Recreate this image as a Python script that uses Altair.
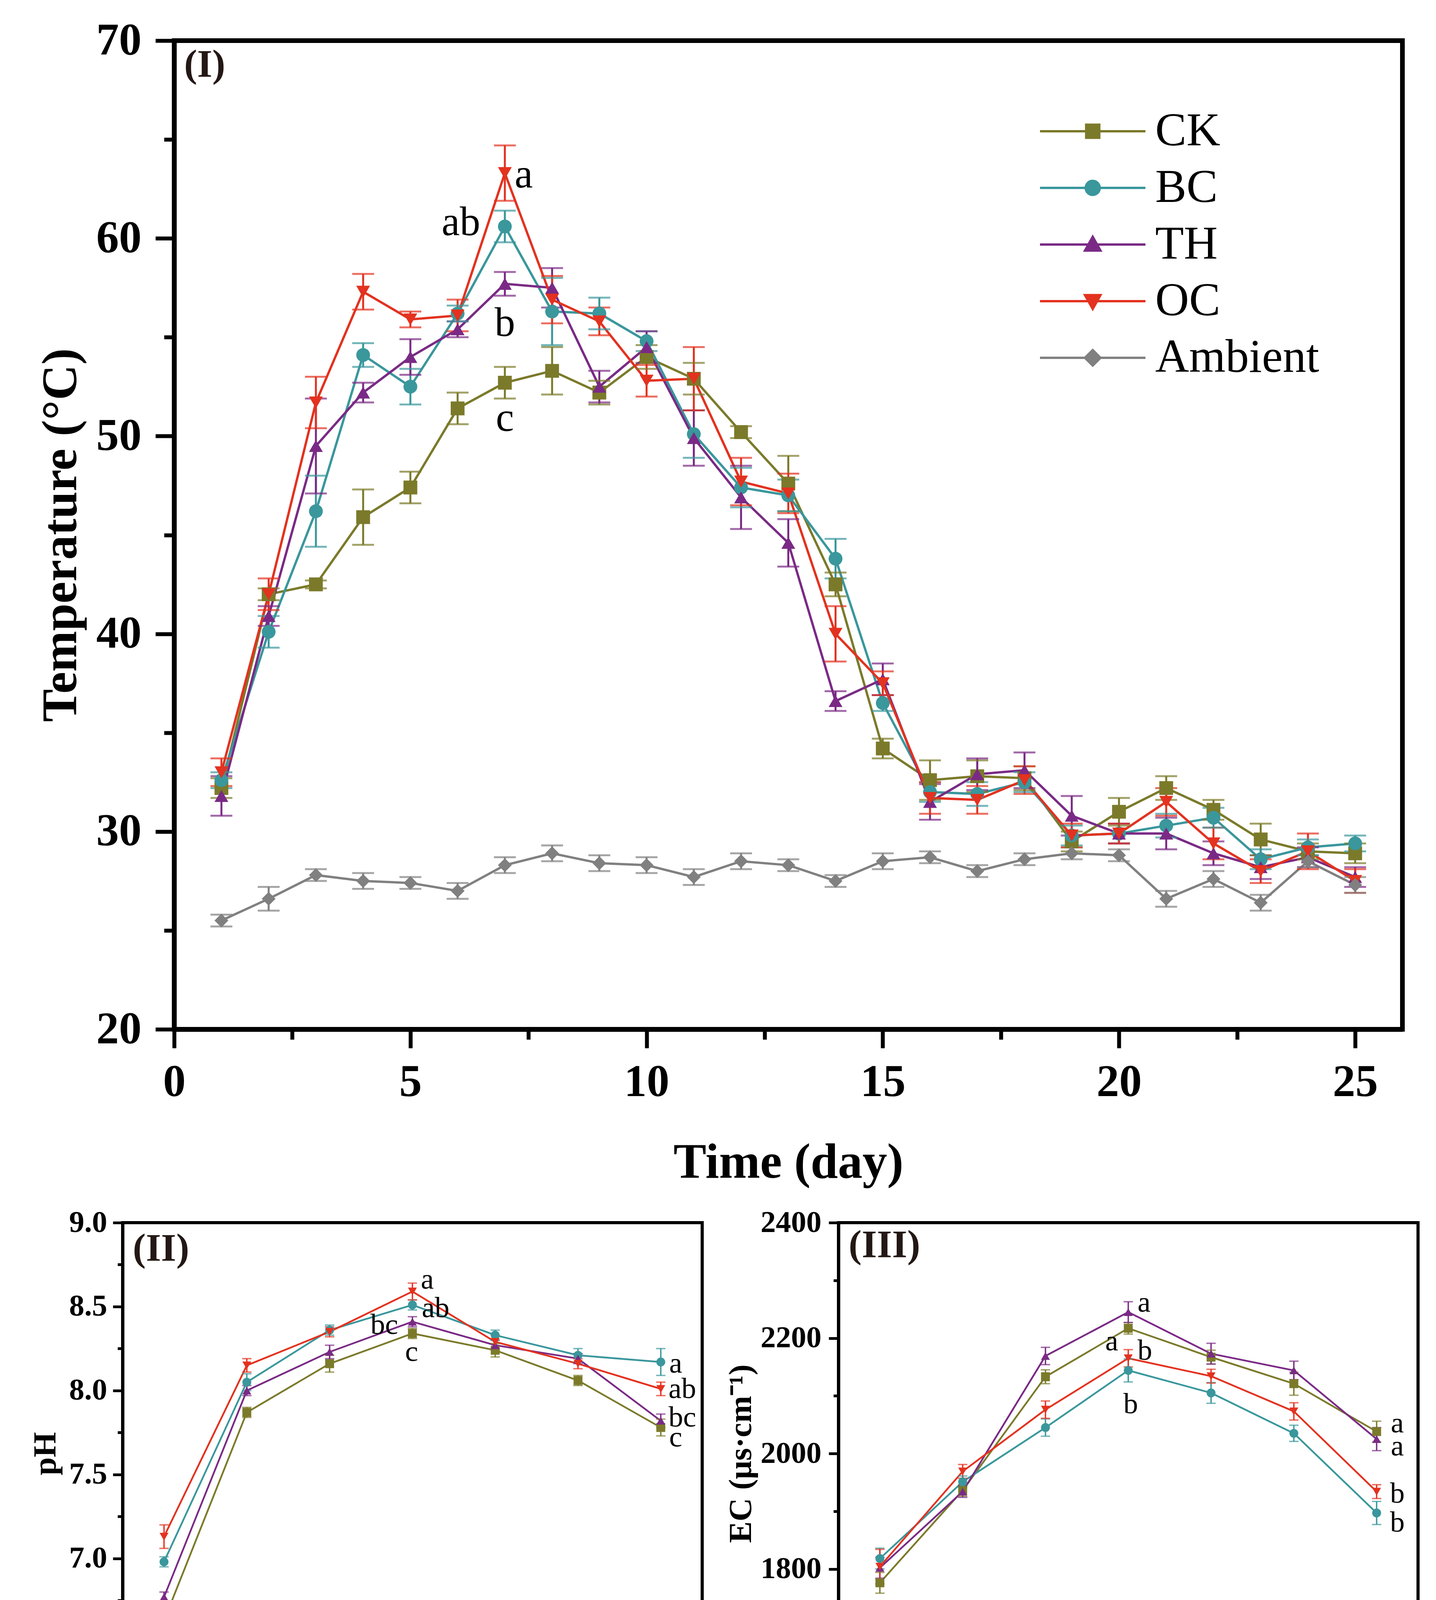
import pandas as pd
import altair as alt

FONT = "Liberation Serif"
TAG_COLOR = "#231815"

SERIES = ["CK", "BC", "TH", "OC", "Ambient"]
COLORS = ["#7b7a2a", "#3a979c", "#7a2a85", "#e3321f", "#808080"]
MARKERS = ["square", "circle", "triangle-up", "triangle-down", "diamond"]
# legend symbols: a line with the marker in its middle
LEGEND_PATHS = [
    "M-2.25,0H2.25M-0.28,-0.28H0.28V0.28H-0.28Z",
    "M-2.25,0H2.25M0.3,0A0.3,0.3,0,1,1,-0.3,0A0.3,0.3,0,1,1,0.3,0Z",
    "M-2.25,0H2.25M0,-0.33L0.33,0.26L-0.33,0.26Z",
    "M-2.25,0H2.25M0,0.33L0.33,-0.26L-0.33,-0.26Z",
    "M-2.25,0H2.25M0,-0.33L0.33,0L0,0.33L-0.33,0Z",
]

# (I) temperature, days 1-25
DAYS = list(range(1, 26))
T_CK = [32.2, 42.0, 42.5, 45.9, 47.4, 51.4, 52.7, 53.3, 52.2, 54.0, 52.9, 50.2, 47.6,
        42.5, 34.2, 32.6, 32.8, 32.7, 29.5, 31.0, 32.2, 31.1, 29.6, 29.0, 28.9]
T_CK_E = [0.5, 0.3, 0.2, 1.4, 0.8, 0.8, 0.8, 1.2, 0.6, 0.6, 0.8, 0.3, 1.4,
          0.6, 0.5, 1.0, 0.8, 0.6, 0.5, 0.7, 0.6, 0.5, 0.8, 0.4, 0.5]
T_BC = [32.6, 40.1, 46.2, 54.1, 52.5, 56.2, 60.6, 56.3, 56.2, 54.8, 50.1, 47.4, 47.0,
        43.8, 36.5, 32.0, 31.9, 32.5, 29.8, 29.9, 30.3, 30.7, 28.6, 29.2, 29.4]
T_BC_E = [0.4, 0.8, 1.8, 0.6, 0.9, 0.4, 0.8, 1.7, 0.8, 0.5, 1.2, 1.0, 0.8,
          1.0, 0.4, 0.5, 0.6, 0.5, 0.5, 0.5, 0.6, 0.5, 0.5, 0.4, 0.4]
T_TH = [31.8, 40.9, 49.5, 52.2, 54.0, 55.4, 57.7, 57.5, 52.5, 54.5, 49.9, 46.9, 44.6,
        36.6, 37.7, 31.5, 32.9, 33.1, 30.8, 29.9, 29.9, 28.9, 28.2, 28.7, 27.7]
T_TH_E = [1.0, 0.5, 2.4, 0.5, 0.9, 0.4, 0.6, 1.0, 0.8, 0.8, 1.4, 1.6, 1.2,
          0.5, 0.8, 0.9, 0.8, 0.9, 1.0, 0.5, 0.8, 0.6, 0.6, 0.5, 0.5]
T_OC = [33.0, 42.0, 51.7, 57.3, 55.9, 56.1, 63.3, 56.9, 55.8, 52.8, 52.9, 47.7, 47.1,
        40.0, 37.5, 31.7, 31.6, 32.6, 29.8, 29.9, 31.5, 29.4, 28.0, 29.0, 27.5]
T_OC_E = [0.7, 0.8, 1.3, 0.9, 0.4, 0.8, 1.4, 1.2, 0.7, 0.8, 1.6, 1.2, 1.0,
          1.4, 0.6, 0.8, 0.7, 0.7, 0.6, 0.5, 0.7, 0.8, 0.6, 0.9, 0.6]
T_AMB = [25.5, 26.6, 27.8, 27.5, 27.4, 27.0, 28.3, 28.9, 28.4, 28.3, 27.7, 28.5, 28.3,
         27.5, 28.5, 28.7, 28.0, 28.6, 28.9, 28.8, 26.6, 27.6, 26.4, 28.5, 27.3]
T_AMB_E = [0.3, 0.6, 0.3, 0.4, 0.3, 0.4, 0.4, 0.4, 0.4, 0.4, 0.4, 0.4, 0.3,
           0.3, 0.4, 0.3, 0.3, 0.3, 0.3, 0.3, 0.4, 0.4, 0.4, 0.3, 0.4]
T_LET_X = [7.4, 6.07, 7.0, 7.0]
T_LET_Y = [63.2, 60.8, 55.7, 50.9]
T_LET = ["a", "ab", "b", "c"]

# (II)-(V): sampling days shown as evenly spaced categories
STAGES = [1, 4, 7, 10, 15, 20, 25]
GROUPS = ["CK", "BC", "TH", "OC"]

PH_CK = [6.63, 7.87, 8.16, 8.34, 8.24, 8.06, 7.78]
PH_BC = [6.98, 8.05, 8.36, 8.51, 8.33, 8.21, 8.17]
PH_TH = [6.77, 8.00, 8.23, 8.41, 8.27, 8.19, 7.82]
PH_OC = [7.13, 8.15, 8.35, 8.59, 8.29, 8.16, 8.01]
PH_CK_E = [0.06, 0.03, 0.05, 0.03, 0.04, 0.03, 0.05]
PH_BC_E = [0.03, 0.05, 0.03, 0.03, 0.03, 0.04, 0.08]
PH_TH_E = [0.03, 0.03, 0.04, 0.03, 0.03, 0.03, 0.04]
PH_OC_E = [0.07, 0.04, 0.03, 0.05, 0.04, 0.03, 0.04]
PH_LET_X = [4.18, 4.28, 3.66, 3.99, 7.18, 7.26, 7.26, 7.18]
PH_LET_Y = [8.66, 8.49, 8.39, 8.23, 8.16, 8.01, 7.84, 7.72]
PH_LET = ["a", "ab", "bc", "c", "a", "ab", "bc", "c"]

EC_CK = [1776, 1936, 2133, 2217, 2167, 2121, 2038]
EC_BC = [1818, 1951, 2045, 2144, 2105, 2035, 1897]
EC_TH = [1802, 1934, 2169, 2245, 2173, 2144, 2025]
EC_OC = [1804, 1969, 2076, 2165, 2134, 2073, 1934]
EC_CK_E = [18, 10, 12, 10, 12, 20, 18]
EC_BC_E = [18, 10, 15, 20, 18, 14, 20]
EC_TH_E = [18, 10, 15, 18, 18, 16, 20]
EC_OC_E = [30, 12, 15, 15, 12, 15, 12]
EC_LET_X = [4.19, 3.80, 4.20, 4.03, 7.25, 7.25, 7.25, 7.25]
EC_LET_Y = [2261, 2194, 2178, 2085, 2052, 2012, 1930, 1880]
EC_LET = ["a", "a", "b", "b", "a", "a", "b", "b"]

GI = [127.4, 149.3, 158.1, 186.9]
GI_E = [6.8, 5.6, 4.9, 6.9]
GI_LET_Y = [140.7, 162.6, 170.3, 200.9]
GI_LET = ["c", "b", "b", "a"]

LG_CK = [0, 3.43, 7.62, 11.92, 16.85, 23.77, 27.53]
LG_BC = [0, 5.18, 10.36, 16.85, 21.15, 27.86, 32.6]
LG_TH = [0, 3.54, 9.19, 15.83, 19.84, 25.31, 28.99]
LG_OC = [0, 5.36, 11.74, 18.56, 25.49, 32.16, 36.17]
LG_CK_E = [0, 1.0, 0.6, 0.9, 0.5, 0.6, 0.8]
LG_BC_E = [0, 0.5, 0.6, 0.6, 0.9, 0.5, 0.6]
LG_TH_E = [0, 0.5, 0.7, 0.6, 1.2, 1.1, 0.8]
LG_OC_E = [0, 0.5, 0.6, 0.9, 0.9, 0.5, 1.1]
LG_LET_X = [7.22, 7.22, 7.22, 7.22]
LG_LET_Y = [36.1, 32.5, 29.9, 27.9]
LG_LET = ["a", "b", "c", "c"]


def long_frame(xs, names, values, errors):
    rows = []
    for name, vals, errs in zip(names, values, errors):
        for x, v, e in zip(xs, vals, errs):
            rows.append({"x": x, "series": name, "v": v, "lo": v - e, "hi": v + e})
    return pd.DataFrame(rows)


def letters_frame(xs, ys, texts):
    return pd.DataFrame({"x": xs, "y": ys, "t": texts})


def axis(st, values, minor_test, title, orient, label_pad, title_pad, expr=None, fmt=None):
    # one axis carries both the labelled ticks and the short unlabelled minor ticks
    label = expr if expr else "datum.label"
    kw = dict(values=values, title=title, orient=orient, grid=False,
              domainColor="black", domainWidth=st["axis_w"],
              tickColor="black", tickWidth=st["tick_w"],
              tickSize={"condition": {"test": minor_test, "value": st["minor"]},
                        "value": st["tick"]},
              labelExpr="(%s) ? '' : %s" % (minor_test, label),
              labelFont=FONT, labelFontSize=st["label"], labelFontWeight="bold",
              labelColor="black", labelPadding=label_pad, labelFlush=False,
              labelOverlap=False, titleFont=FONT, titleFontSize=st["title"],
              titleFontWeight="bold", titleColor="black", titlePadding=title_pad)
    if fmt:
        kw["format"] = fmt
    return alt.Axis(**kw)


def frame(st):
    return alt.ViewBackground(stroke="black", strokeWidth=st["frame"], fill="white")


def tag_layer(st, text, x, y, sx, sy, xaxis, yaxis):
    # panel label "(I)", "(II)" ... in the upper left corner of the frame
    return alt.Chart(pd.DataFrame({"x": [x], "y": [y], "t": [text]})).mark_text(
        font=FONT, fontSize=st["tag"], fontWeight="bold", color=TAG_COLOR,
        align="left", baseline="top",
    ).encode(x=alt.X("x:Q", scale=sx, axis=xaxis), y=alt.Y("y:Q", scale=sy, axis=yaxis),
             text="t:N")


def line_panel(df, names, letters, st, sx, sy, xaxis, yaxis, tag, legend=None):
    colors = COLORS[:len(names)]
    color = alt.Color("series:N", scale=alt.Scale(domain=names, range=colors), legend=None)
    base = alt.Chart(df)
    # every layer carries the same axis definition so the shared axes merge cleanly
    xp = alt.X("x:Q", scale=sx, axis=xaxis)
    yv = alt.Y("v:Q", scale=sy, axis=yaxis)

    lines = base.mark_line(strokeWidth=st["line"]).encode(x=xp, y=yv, color=color)
    bars = base.mark_rule(strokeWidth=st["bar"]).encode(
        x=xp, y=alt.Y("lo:Q", scale=sy, axis=yaxis), y2="hi:Q", color=color)
    cap_hi = base.mark_tick(orient="horizontal", size=st["cap"], thickness=st["bar"]).encode(
        x=xp, y=alt.Y("hi:Q", scale=sy, axis=yaxis), color=color)
    cap_lo = base.mark_tick(orient="horizontal", size=st["cap"], thickness=st["bar"]).encode(
        x=xp, y=alt.Y("lo:Q", scale=sy, axis=yaxis), color=color)
    layers = [lines, bars, cap_hi, cap_lo]

    for name, col, shape in zip(names, colors, MARKERS):
        layers.append(
            base.transform_filter(alt.datum.series == name)
            .mark_point(shape=shape, filled=True, color=col, size=st["marker"], opacity=1)
            .encode(x=xp, y=yv)
        )

    layers.append(
        alt.Chart(letters).mark_text(font=FONT, fontSize=st["letter"], color="black",
                                     align="center", baseline="middle")
        .encode(x=alt.X("x:Q", scale=sx, axis=xaxis),
                y=alt.Y("y:Q", scale=sy, axis=yaxis), text="t:N")
    )
    layers.append(tag_layer(st, tag[0], tag[1], tag[2], sx, sy, xaxis, yaxis))

    if legend is not None:
        layers.append(
            base.transform_filter("false")
            .mark_point(filled=True, opacity=1)
            .encode(
                x=xp, y=yv,
                fill=alt.Fill("series:N", scale=alt.Scale(domain=names, range=colors), legend=legend),
                stroke=alt.Stroke("series:N", scale=alt.Scale(domain=names, range=colors), legend=legend),
                shape=alt.Shape("series:N", scale=alt.Scale(domain=names, range=LEGEND_PATHS), legend=legend),
            )
        )

    return alt.layer(*layers).properties(width=st["w"], height=st["h"], view=frame(st))


ST1 = dict(w=3145, h=2531, axis_w=12, tick_w=10, tick=48, minor=26, label=116, title=126,
           line=6, bar=5, cap=56, marker=1250, letter=105, tag=100, frame=12)
ST2 = dict(w=1484, h=1182, axis_w=8, tick_w=7, tick=25, minor=13, label=78, title=83,
           line=4.5, bar=3.5, cap=24, marker=520, letter=75, tag=100, frame=8)
ST3 = dict(ST2, h=1189)

# ---------- panel I ----------
temp_df = long_frame(DAYS, SERIES,
                     [T_CK, T_BC, T_TH, T_OC, T_AMB],
                     [T_CK_E, T_BC_E, T_TH_E, T_OC_E, T_AMB_E])
# the legend is placed relative to the first row (spacer + panel I)
legend_I = alt.Legend(title=None, orient="none", legendX=2421, legendY=169,
                      symbolSize=14400, symbolStrokeWidth=6, labelFont=FONT,
                      labelFontSize=120, labelColor="black", labelOffset=97,
                      rowPadding=22, padding=0, labelLimit=1000)
t_sx = alt.Scale(domain=[0, 26], nice=False, zero=False)
t_sy = alt.Scale(domain=[20, 70], nice=False, zero=False)
temp = line_panel(
    temp_df, SERIES, letters_frame(T_LET_X, T_LET_Y, T_LET), ST1, t_sx, t_sy,
    axis(ST1, [v * 2.5 for v in range(0, 11)], "datum.value % 5 != 0",
         "Time (day)", "bottom", 30, 86),
    axis(ST1, list(range(20, 71, 5)), "datum.value % 10 != 0",
         "Temperature (°C)", "left", 36, 26),
    ("(I)", 0.21, 69.74),
    legend=legend_I,
)

stage_idx = list(range(1, len(STAGES) + 1))
stage_ticks = [i * 0.5 for i in range(1, 2 * len(STAGES) + 2)]
stage_expr = "[" + ",".join(["''"] + ["'%d'" % s for s in STAGES]) + "][datum.value]"
stage_test = "datum.value % 1 != 0"
stage_scale = alt.Scale(domain=[0.5, len(STAGES) + 0.5], nice=False, zero=False)

# ---------- panel II ----------
ph_df = long_frame(stage_idx, GROUPS, [PH_CK, PH_BC, PH_TH, PH_OC],
                   [PH_CK_E, PH_BC_E, PH_TH_E, PH_OC_E])
ph = line_panel(
    ph_df, GROUPS, letters_frame(PH_LET_X, PH_LET_Y, PH_LET), ST2,
    stage_scale, alt.Scale(domain=[6.25, 9.0], nice=False, zero=False),
    axis(ST2, stage_ticks, stage_test, "Time (day)", "bottom", 18, 50, expr=stage_expr),
    axis(ST2, [6.25 + 0.25 * i for i in range(12)], "round(datum.value * 4) % 2 == 1",
         "pH", "left", 15, 18, fmt=".1f"),
    ("(II)", 0.623, 8.958),
)

# ---------- panel III ----------
ec_df = long_frame(stage_idx, GROUPS, [EC_CK, EC_BC, EC_TH, EC_OC],
                   [EC_CK_E, EC_BC_E, EC_TH_E, EC_OC_E])
ec = line_panel(
    ec_df, GROUPS, letters_frame(EC_LET_X, EC_LET_Y, EC_LET), ST2,
    stage_scale, alt.Scale(domain=[1600, 2400], nice=False, zero=False),
    axis(ST2, stage_ticks, stage_test, "Time (day)", "bottom", 18, 50, expr=stage_expr),
    axis(ST2, list(range(1600, 2401, 100)), "datum.value % 200 != 0",
         "EC (μs·cm⁻¹)", "left", 19, 8, fmt="d"),
    ("(III)", 0.623, 2393.9),
)

# ---------- panel IV ----------
gi_idx = list(range(1, len(GROUPS) + 1))
gi_df = pd.DataFrame({"i": gi_idx, "g": GROUPS, "v": GI,
                      "lo": [v - e for v, e in zip(GI, GI_E)],
                      "hi": [v + e for v, e in zip(GI, GI_E)],
                      "ly": GI_LET_Y, "t": GI_LET})
gx = alt.Scale(domain=[0.5, len(GROUPS) + 0.5], nice=False, zero=False)
gy = alt.Scale(domain=[0, 210], nice=False, zero=True)
gi_expr = "[" + ",".join(["''"] + ["'%s'" % g for g in GROUPS]) + "][datum.value]"
gi_xaxis = axis(ST3, [i * 0.5 for i in range(1, 10)], stage_test, None, "bottom", 16, 0,
                expr=gi_expr)
gi_yaxis = axis(ST3, list(range(0, 201, 25)), "datum.value % 50 != 0",
                "GI (%)", "left", 13, 5)
gbase = alt.Chart(gi_df)
gxp = alt.X("i:Q", scale=gx, axis=gi_xaxis)
gi_bars = gbase.transform_calculate(
    l="datum.i - 0.4016", r="datum.i + 0.4016"
).mark_bar().encode(
    x=alt.X("l:Q", scale=gx, axis=gi_xaxis),
    x2="r:Q",
    y=alt.Y("v:Q", scale=gy, axis=gi_yaxis),
    y2=alt.datum(0),
    color=alt.Color("g:N", scale=alt.Scale(domain=GROUPS, range=COLORS[:4]), legend=None),
)
gi_err = gbase.mark_rule(color="black", strokeWidth=3).encode(
    x=gxp, y=alt.Y("lo:Q", scale=gy, axis=gi_yaxis), y2="hi:Q")
gi_cap_hi = gbase.mark_tick(orient="horizontal", color="black", size=30, thickness=3).encode(
    x=gxp, y=alt.Y("hi:Q", scale=gy, axis=gi_yaxis))
gi_cap_lo = gbase.mark_tick(orient="horizontal", color="black", size=30, thickness=3).encode(
    x=gxp, y=alt.Y("lo:Q", scale=gy, axis=gi_yaxis))
gi_text = gbase.mark_text(font=FONT, fontSize=ST3["letter"], color="black",
                          align="center", baseline="middle").encode(
    x=gxp, y=alt.Y("ly:Q", scale=gy, axis=gi_yaxis), text="t:N")
gi_tag = tag_layer(ST3, "(IV)", 0.592, 204.3, gx, gy, gi_xaxis, gi_yaxis)
gi = alt.layer(gi_bars, gi_err, gi_cap_hi, gi_cap_lo, gi_text, gi_tag).properties(
    width=ST3["w"], height=ST3["h"], view=frame(ST3))

# ---------- panel V ----------
lg_df = long_frame(stage_idx, GROUPS, [LG_CK, LG_BC, LG_TH, LG_OC],
                   [LG_CK_E, LG_BC_E, LG_TH_E, LG_OC_E])
lig = line_panel(
    lg_df, GROUPS, letters_frame(LG_LET_X, LG_LET_Y, LG_LET), ST3,
    stage_scale, alt.Scale(domain=[0, 42], nice=False, zero=False),
    axis(ST3, stage_ticks, stage_test, "Time (day)", "bottom", 18, 50, expr=stage_expr),
    axis(ST3, list(range(0, 41, 5)), "datum.value % 10 != 0",
         "Lignin degradation rate (%)", "left", 17, 13),
    ("(V)", 0.613, 40.69),
)

# an empty 1px view that pushes panel I to the right of the lower panels' plot edge
spacer = alt.Chart(pd.DataFrame({"s": [0]})).mark_point(opacity=0).encode(
    x=alt.X("s:Q", axis=None), y=alt.Y("s:Q", axis=None)
).properties(width=1, height=1, view=alt.ViewBackground(strokeOpacity=0))

row1 = alt.HConcatChart(hconcat=[spacer, temp], spacing=131, bounds="flush")
row2 = alt.HConcatChart(hconcat=[ph, ec], spacing=349, bounds="flush")
row3 = alt.HConcatChart(hconcat=[gi, lig], spacing=347, bounds="flush")

chart = (
    alt.ConcatChart(concat=[row1, row2, row3], columns=1, bounds="full", spacing=42)
    .properties(padding={"left": 59, "top": 32, "right": 0, "bottom": 0})
    .configure(font=FONT, background="white")
    .configure_view(stroke="black")
)

chart.save("out.html", embed_options={"renderer": "svg", "actions": False})
